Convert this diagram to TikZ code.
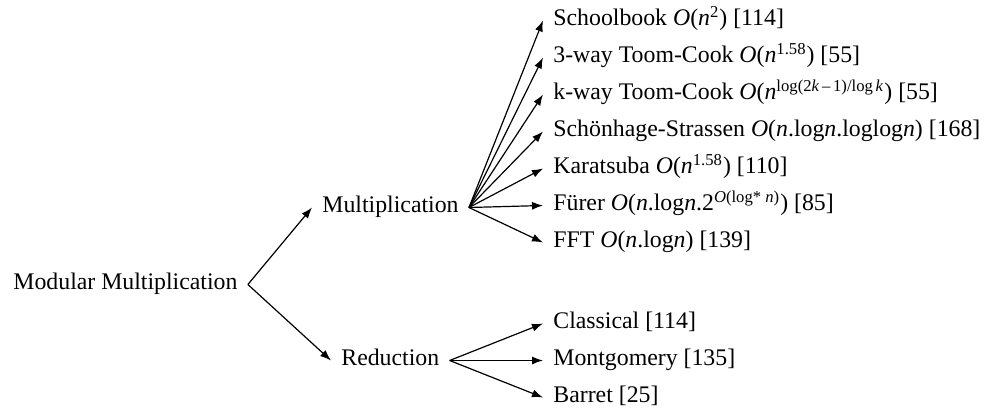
\documentclass[tikz,border=0pt]{standalone}
\usepackage{fontspec}
\setmainfont{Liberation Serif}
\usetikzlibrary{arrows.meta}
\newcommand{\mi}[1]{\textit{#1}}
\newcommand{\up}[1]{\textsuperscript{#1}}

\begin{document}
\begin{tikzpicture}[x=0.5pt,y=-0.5pt]
  \tikzstyle{item} = [anchor=west,inner xsep=5pt,inner ysep=0pt,text height=1.6ex,text depth=0.45ex,font=\fontsize{11.9}{14}\selectfont]
  \tikzstyle{arr} = [-{Latex[length=5.5pt,width=4pt]},semithick]
  \useasboundingbox (0,0) rectangle (984,412);
  \node[item] (root) at (3,284.5) {Modular Multiplication};
  \node[item] (mul) at (312,207.5) {Multiplication};
  \node[item] (red) at (331,360.5) {Reduction};
  \draw[arr] (root.east) -- (mul.west);
  \draw[arr] (root.east) -- (red.west);
  % multiplication algorithms
  \foreach \n/\t [count=\i from 0] in {
      school/{Schoolbook \mi{O}(\mi{n}\up{2}) [114]},
      toomthree/{3-way Toom-Cook \mi{O}(\mi{n}\up{1.58}) [55]},
      toomk/{k-way Toom-Cook \mi{O}(\mi{n}\up{log(2\mi{k}\,--\,1)/log\,\mi{k}}) [55]},
      ss/{Schönhage-Strassen \mi{O}(\mi{n}.log\mi{n}.loglog\mi{n}) [168]},
      kara/{Karatsuba \mi{O}(\mi{n}\up{1.58}) [110]},
      furer/{Fürer \mi{O}(\mi{n}.log\mi{n}.2\up{\mi{O}(log* \mi{n})}) [85]},
      fft/{FFT \mi{O}(\mi{n}.log\mi{n}) [139]}}{
    \node[item] (\n) at (543,20.5+37*\i) {\t};
    \draw[arr] (mul.east) -- (\n.west);
  }
  % reduction algorithms
  \foreach \n/\t [count=\i from 0] in {
      classical/{Classical [114]},
      mont/{Montgomery [135]},
      barret/{Barret [25]}}{
    \node[item] (\n) at (543,323.5+37*\i) {\t};
    \draw[arr] (red.east) -- (\n.west);
  }
\end{tikzpicture}
\end{document}
